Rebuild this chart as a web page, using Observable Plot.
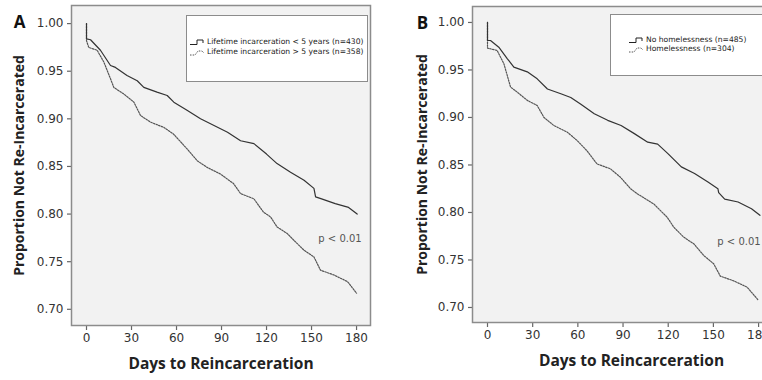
<!DOCTYPE html>
<html>
<head>
<meta charset="utf-8">
<script src="https://cdn.jsdelivr.net/npm/d3@7"></script>
<script src="https://cdn.jsdelivr.net/npm/@observablehq/plot@0.6"></script>
<style>
  html, body { margin: 0; padding: 0; background: #fff; }
  body { width: 762px; height: 380px; overflow: hidden; position: relative; font-family: "DejaVu Sans", sans-serif; }
  .panel { position: absolute; top: 0; }
  .panel svg { max-width: none !important; }
  .legend { position: absolute; background: #fff; border: 1px solid #8c8c8c; box-sizing: border-box; }
  .legrow { position: absolute; display: flex; align-items: center; font-size: 7.6px; color: #222; white-space: nowrap; line-height: 1; }
  .legrow svg { margin-right: 1px; }
  .pval { position: absolute; font-size: 10px; color: #555; transform: translate(-50%, -50%); white-space: nowrap; }
</style>
</head>
<body>
<div id="panelA" class="panel" style="left:0px; width:380px"></div>
<div id="panelB" class="panel" style="left:380px; width:420px"></div>
<script>
// ---- Data (Kaplan–Meier curves) ----
const xTicks = [0, 30, 60, 90, 120, 150, 180];
const yTicks = [0.70, 0.75, 0.80, 0.85, 0.90, 0.95, 1.00];

// Panel A: lifetime incarceration < 5 years (n=430)
const daysA1 = [0, 0, 2.7, 9.3, 16, 19.3, 27, 33.8, 38.2, 47, 53.8, 58.2, 67, 76, 85, 94, 102.7, 111.6, 120, 127, 136, 145, 151.6, 152.7, 156.7, 165.8, 174.7, 180.4];
const survA1 = [1.000, 0.984, 0.983, 0.972, 0.956, 0.954, 0.9455, 0.940, 0.933, 0.928, 0.9245, 0.9175, 0.909, 0.900, 0.893, 0.886, 0.877, 0.874, 0.863, 0.853, 0.844, 0.8355, 0.827, 0.818, 0.816, 0.811, 0.807, 0.800];
// Panel A: lifetime incarceration > 5 years (n=358)
const daysA2 = [0, 0, 1.5, 7.1, 11.6, 16, 18.2, 24.9, 31.6, 36, 42.7, 51.6, 58, 67, 73.8, 80.4, 89.3, 98, 102.7, 111.6, 118, 122.7, 127, 133.8, 138.2, 145, 151.6, 156, 165, 174, 180];
const survA2 = [1.000, 0.982, 0.975, 0.972, 0.9595, 0.942, 0.933, 0.926, 0.9175, 0.9035, 0.8965, 0.891, 0.884, 0.8685, 0.856, 0.849, 0.842, 0.832, 0.8215, 0.816, 0.802, 0.797, 0.7865, 0.7795, 0.7725, 0.762, 0.755, 0.741, 0.736, 0.729, 0.717];

// Panel B: no homelessness (n=485)
const daysB1 = [0, 0, 2, 7.5, 13.1, 17.5, 26.4, 33, 39.8, 48.7, 55.3, 62, 70.9, 79.8, 88.7, 97.5, 106.4, 113, 119.8, 128.7, 137.5, 146.4, 153, 153.5, 157.5, 166.4, 175.3, 180.9];
const survB1 = [1.000, 0.981, 0.981, 0.974, 0.962, 0.953, 0.948, 0.9407, 0.930, 0.925, 0.921, 0.914, 0.904, 0.897, 0.8916, 0.883, 0.874, 0.872, 0.862, 0.848, 0.841, 0.832, 0.825, 0.821, 0.814, 0.811, 0.804, 0.797];
// Panel B: homelessness (n=304)
const daysB2 = [0, 0, 6.4, 10.9, 15.3, 19.8, 26.4, 33, 37.5, 44, 53, 59.5, 66, 72.8, 81.6, 88.3, 95, 99.4, 110.4, 119.3, 123.7, 130.3, 137, 143.6, 150.2, 154.6, 163.5, 172.4, 180];
const survB2 = [1.000, 0.973, 0.9705, 0.9565, 0.932, 0.9266, 0.918, 0.9126, 0.900, 0.8916, 0.8845, 0.8758, 0.865, 0.851, 0.846, 0.837, 0.825, 0.8197, 0.809, 0.795, 0.7845, 0.774, 0.767, 0.7547, 0.746, 0.733, 0.728, 0.7214, 0.7074];

const panelLetters = ["A", "B"];
const legendA = ["Lifetime incarceration < 5 years (n=430)", "Lifetime incarceration > 5 years (n=358)"];
const legendB = ["No homelessness (n=485)", "Homelessness (n=304)"];
const xTitle = "Days to Reincarceration";
const yTitle = "Proportion Not Re-Incarcerated";
const pText = "p < 0.01";

const toRows = (days, surv) => days.map((d, i) => ({day: d, value: surv[i]}));

function panel({letter, s1, s2, width, marginLeft, marginRight, marginTop, marginBottom, xDomain, yDomain, yLabelDx}) {
  return Plot.plot({
    width, height: 380,
    marginLeft, marginRight, marginTop, marginBottom,
    style: {fontFamily: "'DejaVu Sans', sans-serif", background: "transparent", overflow: "visible", maxWidth: "none"},
    x: {domain: xDomain},
    y: {domain: yDomain},
    marks: [
      Plot.frame({fill: "#f2f2f2", stroke: null}),
      Plot.axisY({ticks: yTicks, tickFormat: d3.format(".2f"), tickSize: 4, tickPadding: 4, fontSize: 12, label: null, stroke: "#666", color: "#333", strokeWidth: 1.2}),
      Plot.axisX({ticks: xTicks, tickSize: 5, tickPadding: 3, fontSize: 12, label: null, stroke: "#666", color: "#333", strokeWidth: 1.2}),
      Plot.line(s2, {x: "day", y: "value", curve: "linear", stroke: "#555", strokeWidth: 1.2, strokeDasharray: "1.5,1.3"}),
      Plot.line(s1, {x: "day", y: "value", curve: "linear", stroke: "#333", strokeWidth: 1.2}),
      Plot.frame({stroke: "#8c8c8c", strokeWidth: 1.5}),
      Plot.text([xTitle], {frameAnchor: "bottom", dy: 39, lineAnchor: "middle", textAnchor: "middle", fontSize: 15.5, fontWeight: "bold", fill: "#222", fontFamily: "'Open Sans', sans-serif"}),
      Plot.text([yTitle], {frameAnchor: "left", dx: yLabelDx, rotate: -90, lineAnchor: "middle", textAnchor: "middle", fontSize: 14, fontWeight: "bold", fill: "#222", fontFamily: "'Open Sans', sans-serif"}),
      Plot.text([letter], {frameAnchor: "top-left", dx: yLabelDx, dy: 17.5, lineAnchor: "middle", textAnchor: "middle", fontSize: 17, fontWeight: "bold", fill: "#111", fontFamily: "'Open Sans', sans-serif"})
    ]
  });
}

document.getElementById("panelA").append(panel({
  letter: panelLetters[0], s1: toRows(daysA1, survA1), s2: toRows(daysA2, survA2),
  width: 380, marginLeft: 71, marginRight: 10, marginTop: 5, marginBottom: 55,
  xDomain: [-10, 189.3], yDomain: [0.683, 1.019], yLabelDx: -52
}));
document.getElementById("panelB").append(panel({
  letter: panelLetters[1], s1: toRows(daysB1, survB1), s2: toRows(daysB2, survB2),
  width: 420, marginLeft: 92, marginRight: 10, marginTop: 6, marginBottom: 58,
  xDomain: [-9.96, 201.2], yDomain: [0.6842, 1.0168], yLabelDx: -50
}));

// ---- Legends and p-value annotations (HTML overlay) ----
function legendSymbol(dashed) {
  const ns = "http://www.w3.org/2000/svg";
  const svg = document.createElementNS(ns, "svg");
  svg.setAttribute("width", 17); svg.setAttribute("height", 8);
  const p = document.createElementNS(ns, "path");
  p.setAttribute("d", dashed ? "M1,7 H6 L9,3 H13 L15,5" : "M1,6.5 H8 V2 H14 V5");
  p.setAttribute("fill", "none");
  p.setAttribute("stroke", dashed ? "#555" : "#222");
  p.setAttribute("stroke-width", 1);
  if (dashed) p.setAttribute("stroke-dasharray", "1.5,1.2");
  svg.append(p);
  return svg;
}
function legend(labels, box, rowsY, rowX) {
  const div = document.createElement("div");
  div.className = "legend";
  Object.assign(div.style, {left: box[0] + "px", top: box[1] + "px", width: box[2] + "px", height: box[3] + "px"});
  labels.forEach((t, i) => {
    const row = document.createElement("div");
    row.className = "legrow";
    row.style.left = (rowX - box[0]) + "px";
    row.style.top = (rowsY[i] - box[1] - 4) + "px";
    row.append(legendSymbol(i === 1));
    const span = document.createElement("span");
    span.textContent = t;
    row.append(span);
    div.append(row);
  });
  document.body.append(div);
}
legend(legendA, [186, 15, 182, 67], [41, 51], 188);
legend(legendB, [610, 14, 175, 62], [39, 48], 627);

function pLabel(x, y) {
  const d = document.createElement("div");
  d.className = "pval";
  d.style.left = x + "px"; d.style.top = y + "px";
  d.textContent = pText;
  document.body.append(d);
}
pLabel(340, 238);
pLabel(739, 241);
</script>
</body>
</html>
